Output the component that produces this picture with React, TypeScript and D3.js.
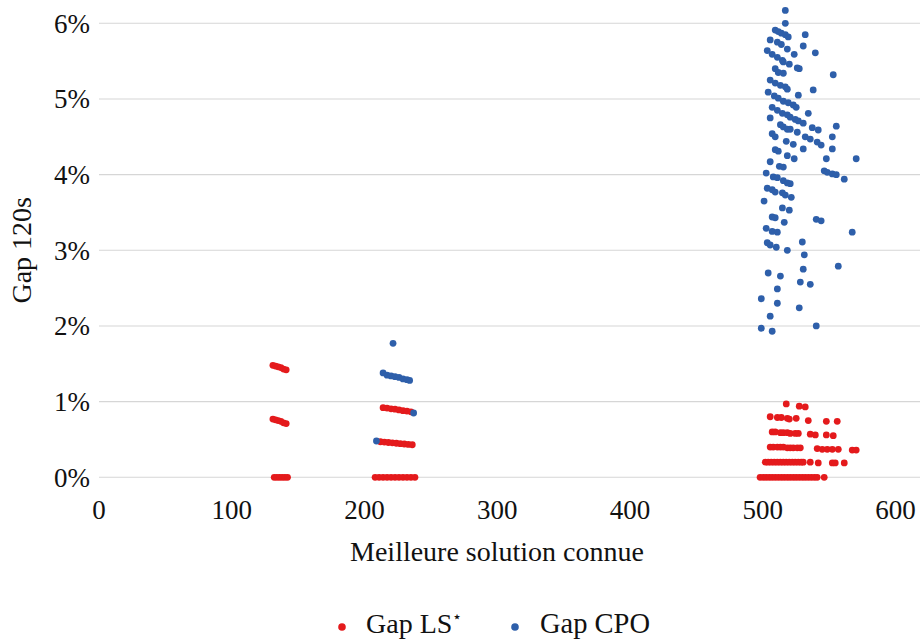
import React from "react";
import * as d3 from "d3";

// Tick values
const xTicks = [0, 100, 200, 300, 400, 500, 600];
const yTicks = [0, 1, 2, 3, 4, 5, 6];

// Series "Gap LS*" : [best known solution, gap %]
const gapLS_A: [number, number][] = [
  [131, 1.48], [133, 1.47], [135, 1.46], [137, 1.45], [139, 1.43], [141, 1.42],
  [131, 0.77], [133, 0.76], [135, 0.75], [137, 0.74], [139, 0.72], [141, 0.71],
  [132, 0], [134, 0], [136, 0], [138, 0], [140, 0], [142, 0],
];
const gapLS_B: [number, number][] = [
  [214, 0.92], [217, 0.915], [220, 0.905], [223, 0.9], [226, 0.89], [229, 0.88], [232, 0.875], [235, 0.865],
  [212, 0.47], [215, 0.465], [218, 0.46], [221, 0.455], [224, 0.45], [227, 0.445], [230, 0.44], [233, 0.435], [236, 0.43],
  [208, 0], [211, 0], [214, 0], [217, 0], [220, 0], [223, 0], [226, 0], [229, 0], [232, 0], [235, 0], [238, 0],
];
const gapLS_C: [number, number][] = [
  [517.7, 0.97], [527.5, 0.94], [532, 0.93],
  [505.6, 0.8], [511, 0.79], [514, 0.79], [518.5, 0.78], [520, 0.77], [525.2, 0.78], [534.3, 0.75], [547.9, 0.74], [556.1, 0.74],
  [507.1, 0.6], [509.4, 0.6], [513.3, 0.59], [515.5, 0.59], [518.5, 0.59], [520.7, 0.58], [524.5, 0.58], [526.8, 0.58],
  [535.8, 0.57], [539.6, 0.56], [547.9, 0.56], [553.1, 0.55],
  [505.6, 0.4], [507.9, 0.4], [511, 0.4], [513.3, 0.4], [515.5, 0.4], [518.5, 0.39], [520.7, 0.39], [523, 0.39], [526, 0.39], [528.3, 0.39],
  [541, 0.38], [544.8, 0.37], [548.6, 0.37], [552.4, 0.37], [556.9, 0.37], [567.4, 0.36], [570.4, 0.36],
  [501.9, 0.2], [504.1, 0.2], [506.4, 0.2], [508.7, 0.2], [511, 0.2], [513.3, 0.2], [515.5, 0.2], [517.7, 0.2], [520, 0.2],
  [522.3, 0.2], [524.5, 0.2], [526.8, 0.2], [529, 0.2], [530.5, 0.2],
  [535.8, 0.2], [541.8, 0.19], [552.4, 0.19], [554.6, 0.19], [561.4, 0.19],
  [498, 0], [500.4, 0], [502.6, 0], [504.9, 0], [507.1, 0], [509.4, 0], [511.7, 0], [514, 0], [516.2, 0], [518.5, 0],
  [520.7, 0], [523, 0], [525.2, 0], [527.5, 0], [529.8, 0], [532, 0], [534.3, 0], [536.6, 0], [538.9, 0], [541, 0], [546.3, 0],
];

// Series "Gap CPO"
const gapCPO_B: [number, number][] = [
  [214, 1.38], [217, 1.35], [220, 1.34], [223, 1.33], [226, 1.32], [229, 1.3], [232, 1.29], [234, 1.28],
  [221.5, 1.77], [209, 0.48], [237, 0.85],
];
const gapCPO_C: [number, number][] = [
  [517, 6.17], [517, 6.0],
  [509.4, 5.91], [511.7, 5.89], [514, 5.87], [517, 5.85], [519.2, 5.82], [532, 5.85],
  [505.6, 5.78], [511, 5.75], [514, 5.72], [530.5, 5.7], [518.5, 5.66], [539.6, 5.61],
  [503.4, 5.64], [507.1, 5.59], [511, 5.55], [514.8, 5.51], [515.5, 5.49], [523.7, 5.59], [520, 5.46],
  [526, 5.41], [527.5, 5.4], [509.4, 5.4], [511.7, 5.35], [515.5, 5.34], [553.1, 5.32],
  [505.6, 5.25], [509.4, 5.21], [513.3, 5.18], [517, 5.16], [518.5, 5.13], [538, 5.12],
  [504.1, 5.09], [508.7, 5.04], [511.7, 5.01], [515.5, 4.97], [519.2, 4.95], [523, 4.92], [525.2, 4.89], [526.8, 5.05],
  [534.3, 4.81], [507.1, 4.89], [511, 4.85], [514.8, 4.81], [518.5, 4.79], [520.7, 4.76], [505.6, 4.75],
  [524.5, 4.73], [526.8, 4.71], [530.5, 4.68],
  [513.3, 4.66], [515.5, 4.63], [518.5, 4.6], [520.7, 4.6], [537.3, 4.62], [541.8, 4.59], [555.4, 4.64],
  [526, 4.56], [507.1, 4.54], [509.4, 4.5], [532, 4.5], [535.8, 4.47], [552.4, 4.5],
  [517.7, 4.44], [523, 4.4], [541, 4.43], [544, 4.39], [530.5, 4.34], [552.4, 4.34],
  [509.4, 4.33], [511.7, 4.31], [518.5, 4.25], [523.7, 4.21], [547.9, 4.21], [570.4, 4.21],
  [505.6, 4.17], [512.5, 4.11], [515.5, 4.1], [546.3, 4.05], [548.6, 4.03], [502.6, 4.02],
  [552.4, 4.01], [555.4, 4.0], [561.4, 3.94], [507.9, 3.97], [511, 3.96], [515.5, 3.92], [518.5, 3.89], [520.7, 3.88],
  [503.4, 3.82], [507.1, 3.8], [509.4, 3.77], [514.8, 3.76], [517, 3.73], [521.5, 3.7], [501, 3.65],
  [514.8, 3.56], [520, 3.53], [507.1, 3.44], [509.4, 3.43], [540.3, 3.41], [544, 3.39], [516.2, 3.37],
  [502.6, 3.29], [507.1, 3.25], [511, 3.24], [567.4, 3.24],
  [529.8, 3.11], [503.4, 3.1], [505.6, 3.07], [510.2, 3.04], [518.5, 3.0], [531.3, 2.94],
  [556.9, 2.79], [530.5, 2.75], [504.1, 2.7], [513.3, 2.66], [528.3, 2.58], [535.8, 2.55],
  [511, 2.49], [498.9, 2.36], [511, 2.3], [527.5, 2.24], [505.6, 2.13], [498.9, 1.97], [507.1, 1.93], [540.3, 2.0],
];

const gapLS = [...gapLS_A, ...gapLS_B, ...gapLS_C];
const gapCPO = [...gapCPO_B, ...gapCPO_C];

const RED = "#E41A1C";
const BLUE = "#2E5FAA";
const FONT = "Liberation Serif, DejaVu Serif, serif";

export default function App() {
  const W = 920;
  const H = 639;
  const x = d3.scaleLinear().domain([0, 600]).range([99, 895.5]);
  const y = d3.scaleLinear().domain([0, 6]).range([477.3, 23.3]);
  const r = 3.4;
  const txt = { fontFamily: FONT, fill: "#111" } as React.CSSProperties;

  return (
    <svg
      width={W}
      height={H}
      style={{ position: "absolute", left: 0, top: 0, background: "#fff", fontFamily: FONT }}
    >
      <rect width={W} height={H} fill="#fff" />
      {/* gridlines */}
      {yTicks.map((t) => (
        <line key={"g" + t} x1={99} x2={W} y1={y(t)} y2={y(t)} stroke="#d6d6d6" strokeWidth={1.1} />
      ))}
      {/* y tick labels */}
      {yTicks.map((t) => (
        <text key={"yl" + t} x={90} y={y(t)} dy="0.35em" textAnchor="end" fontSize={27} style={txt}>
          {t + "%"}
        </text>
      ))}
      {/* x tick labels */}
      {xTicks.map((t) => (
        <text key={"xl" + t} x={x(t)} y={519} textAnchor="middle" fontSize={27} style={txt}>
          {t}
        </text>
      ))}
      {/* axis titles */}
      <text x={497} y={561} textAnchor="middle" fontSize={28} style={txt}>
        Meilleure solution connue
      </text>
      <text transform={`translate(31, ${y(3)}) rotate(-90)`} textAnchor="middle" fontSize={28} style={txt}>
        Gap 120s
      </text>
      {/* points */}
      <g>
        {gapLS.map((d, i) => (
          <circle key={"ls" + i} cx={x(d[0])} cy={y(d[1])} r={r} fill={RED} />
        ))}
      </g>
      <g>
        {gapCPO.map((d, i) => (
          <circle key={"cpo" + i} cx={x(d[0])} cy={y(d[1])} r={r} fill={BLUE} />
        ))}
      </g>
      {/* legend */}
      <g>
        <circle cx={342} cy={627} r={3.8} fill={RED} />
        <text x={366} y={633} fontSize={28} style={txt}>
          Gap LS
          <tspan fontSize={16} dy={-11}>{"\u22C6"}</tspan>
        </text>
        <circle cx={515} cy={627} r={3.8} fill={BLUE} />
        <text x={540} y={633} fontSize={28.5} style={txt}>
          Gap CPO
        </text>
      </g>
    </svg>
  );
}
